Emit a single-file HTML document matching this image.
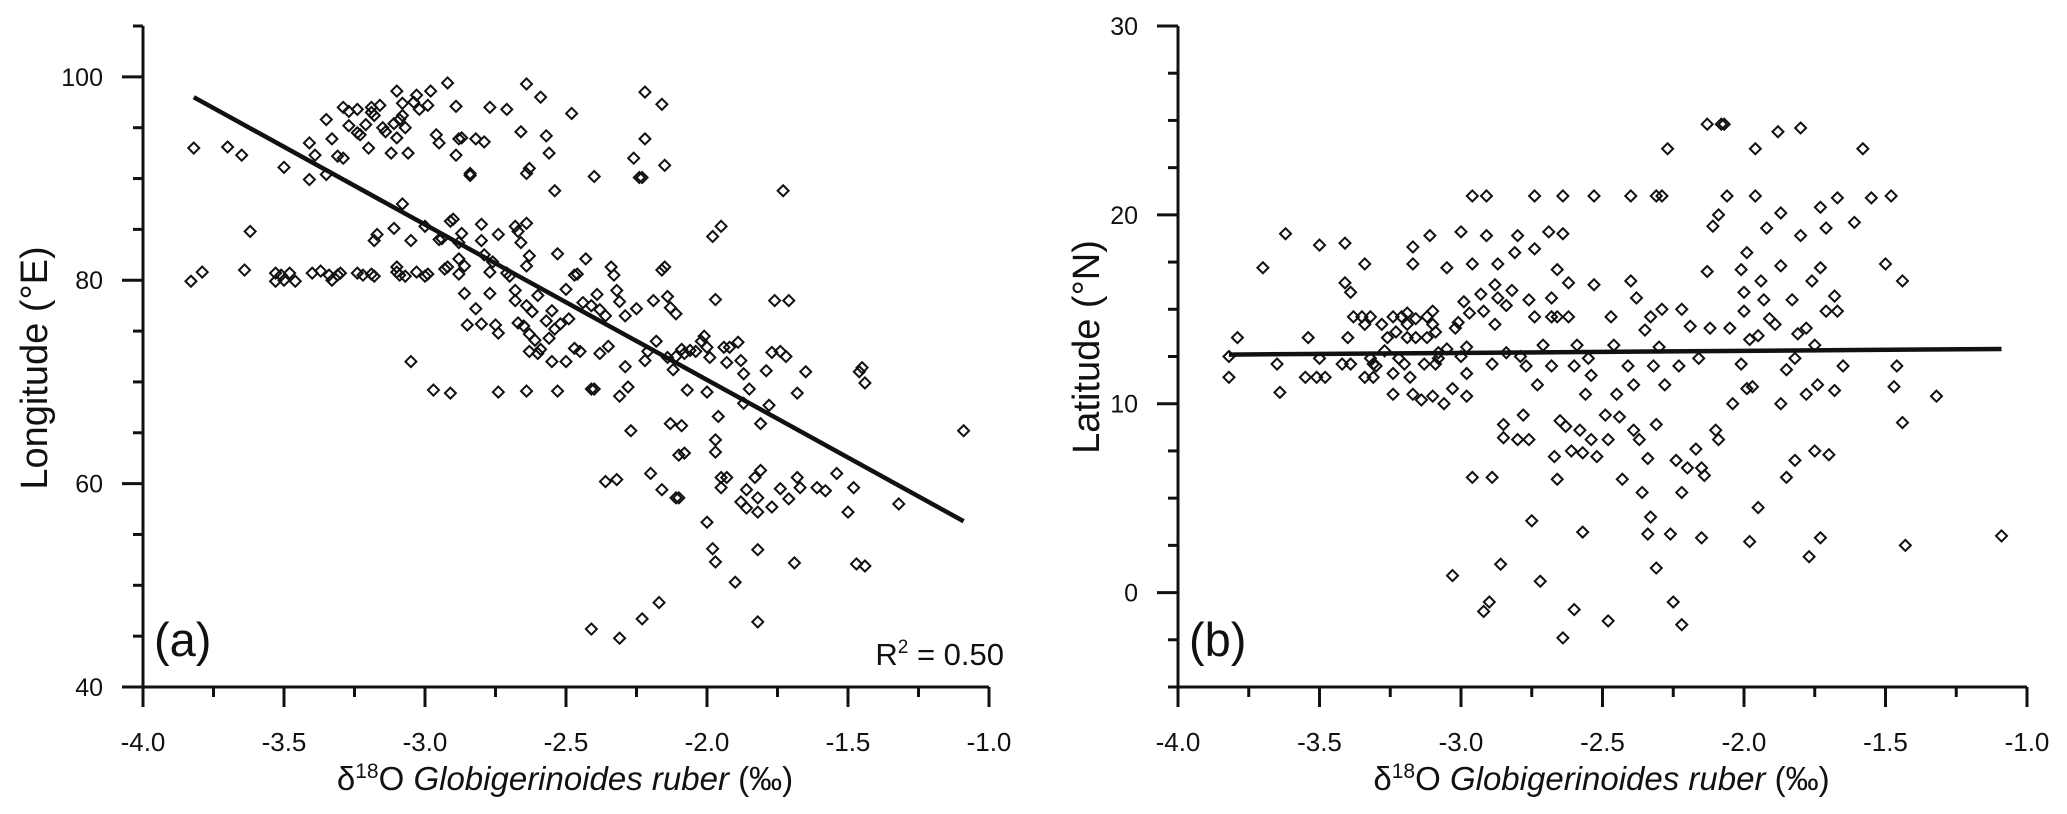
<!DOCTYPE html>
<html><head><meta charset="utf-8"><style>
html,body{margin:0;padding:0;background:#fff}
svg{display:block}
text{font-family:"Liberation Sans",Arial,sans-serif;fill:#111}
</style></head><body>
<svg id="fig" width="2067" height="814" viewBox="0 0 2067 814" xmlns="http://www.w3.org/2000/svg"></svg>
<script>
// Panel (a) data: d18O vs Longitude
const aX = [-3.82,-3.70,-3.65,-3.83,-3.79,-3.64,-3.62,-3.50,-3.53,-3.51,-3.48,-3.53,-3.50,-3.46,
-3.41,-3.41,-3.39,-3.40,-3.37,-3.35,-3.34,-3.33,-3.31,-3.30,-3.33,-3.35,-3.31,-3.29,-3.29,-3.27,-3.24,-3.27,-3.23,-3.24,
-3.19,-3.18,-3.16,-3.14,-3.12,-3.11,-3.10,-3.09,-3.08,-3.07,-3.08,-3.04,-3.03,-3.02,-2.99,-2.98,-2.96,-2.95,-2.92,-2.89,-2.89,-2.88,-2.87,-2.82,-2.84,-2.84,-2.77,-2.79,-2.71,-2.66,-2.64,-2.63,-2.64,-2.59,-2.57,-2.56,-2.54,-2.48,-2.40,-2.26,-2.24,-2.23,-2.22,-2.22,-2.16,-2.15,
-3.19,-3.20,-3.21,-3.15,-3.06,-3.10,
-3.24,-3.22,-3.19,-3.18,-3.10,-3.09,-3.07,-3.10,-3.03,-3.00,-2.99,-2.93,-2.92,-2.88,
-3.18,-3.17,-3.11,-3.08,-3.05,-3.00,-2.95,-2.94,-2.91,-2.90,-2.88,-2.87,-2.88,-2.86,-2.80,-2.80,-2.79,-2.77,-2.76,-2.74,-2.71,-2.68,-2.67,-2.66,-2.64,-2.64,-2.63,-2.68,-2.68,-2.64,-2.62,
-2.86,-2.82,-2.80,-2.77,-2.75,-2.74,-2.85,-2.70,-2.67,-2.65,-2.63,-2.61,-2.60,-2.59,-2.57,-2.56,-2.55,-2.54,-2.53,-2.52,-2.50,-2.49,-2.47,-2.46,-2.43,-2.44,-2.41,-2.39,-2.38,-2.36,-2.34,-2.33,-2.32,-2.31,-2.29,-2.25,-2.22,-2.21,-2.18,-2.19,-2.16,-2.15,-2.14,-2.13,-2.11,-2.14,-2.12,-2.11,-2.09,-2.08,-2.06,-2.04,-2.02,-2.01,-2.00,-1.99,-1.98,-1.97,-1.95,-1.94,-1.93,-1.92,-1.89,-1.88,-1.87,-1.79,-1.77,-1.76,-1.74,-1.72,-1.71,-1.73,-1.65,-1.68,-1.46,-1.45,-1.44,-1.09,
-3.05,-2.97,-2.91,-2.74,-2.64,-2.53,-2.60,-2.63,-2.55,-2.50,-2.47,-2.45,-2.40,-2.41,-2.38,-2.35,-2.31,-2.28,-2.27,-2.29,
-2.07,-2.00,-1.96,-1.85,-1.87,-1.81,-1.78,-2.13,-2.09,-2.10,-2.08,-1.97,-1.97,-1.95,-1.93,-1.95,-1.88,-1.86,-1.86,-1.83,-1.81,-1.82,-1.82,-1.77,-1.74,-1.71,-1.68,-1.67,-1.61,-1.58,-1.54,-1.48,-1.50,-1.32,-2.20,-2.16,-2.11,-2.10,-2.36,-2.32,
-2.00,-1.98,-1.97,-1.82,-1.69,-1.47,-1.44,-1.90,-2.17,-2.23,-2.41,-2.31,-1.82];
const aY = [93.0,93.1,92.3,79.9,80.8,81.0,84.8,91.1,80.7,80.5,80.7,79.9,80.0,79.9,
93.5,89.9,92.3,80.7,80.9,90.4,80.5,80.0,80.5,80.7,93.9,95.8,92.2,92.0,97.0,96.6,96.8,95.2,94.3,94.5,
96.5,96.2,97.2,94.6,92.5,95.4,98.6,95.8,96.2,95.0,97.4,97.5,98.2,96.8,97.2,98.6,94.3,93.5,99.4,97.1,92.3,93.9,94.0,93.9,90.5,90.3,97.0,93.6,96.8,94.6,90.5,91.0,99.3,98.0,94.2,92.5,88.8,96.4,90.2,92.0,90.1,90.1,98.5,93.9,97.3,91.3,
97.0,93.0,95.3,95.0,92.5,94.0,
80.7,80.5,80.6,80.4,80.8,80.5,80.4,81.3,80.8,80.4,80.6,81.1,81.3,80.6,
83.9,84.5,85.1,87.5,83.9,85.3,84.0,84.1,85.8,86.0,83.7,84.6,82.1,81.4,85.5,83.9,82.5,80.8,81.8,84.5,80.7,85.3,84.8,83.7,85.6,81.4,82.4,79.0,78.0,77.5,76.9,
78.7,77.2,75.7,78.7,75.6,74.8,75.6,80.4,75.8,75.5,74.7,74.1,78.5,73.2,76.0,74.3,77.0,75.2,82.6,75.7,79.1,76.2,80.5,80.6,82.1,77.8,77.5,78.6,77.1,76.5,81.3,80.5,79.0,77.9,76.5,77.2,72.1,73.0,74.0,78.0,81.0,81.3,78.4,77.3,76.7,72.4,71.2,72.5,73.2,72.8,73.1,73.0,74.0,74.5,73.4,72.4,84.3,78.1,85.3,73.4,71.9,73.4,73.9,72.1,70.8,71.1,72.9,78.0,73.0,72.5,78.0,88.8,71.0,68.9,71.0,71.4,69.9,65.2,
72.0,69.2,68.9,69.0,69.1,69.1,72.8,73.0,72.0,72.0,73.3,73.0,69.3,69.3,72.8,73.5,68.6,69.5,65.2,71.5,
69.2,69.0,66.6,69.3,67.9,65.9,67.7,65.9,65.7,62.8,63.0,64.3,63.1,60.6,60.6,59.6,58.2,57.6,59.4,60.6,61.3,58.6,57.2,57.7,59.5,58.5,60.6,59.6,59.6,59.3,61.0,59.6,57.2,58.0,61.0,59.4,58.6,58.6,60.2,60.4,
56.2,53.6,52.3,53.5,52.2,52.1,51.9,50.3,48.3,46.7,45.7,44.8,46.4];
const aFitX = [-3.82,-1.09];
const aFitY = [98.0,56.3];

// Panel (b) data: d18O vs Latitude
const bX = [-3.82,-3.82,-3.79,-3.70,-3.65,-3.64,-3.62,-3.55,-3.54,-3.51,-3.50,-3.50,-3.48,-3.42,-3.41,-3.41,-3.40,-3.39,-3.39,-3.38,-3.35,-3.34,-3.34,-3.34,-3.32,-3.32,-3.31,-3.31,-3.30,
-3.28,-3.27,-3.26,-3.24,-3.24,-3.24,-3.23,-3.22,-3.21,-3.20,-3.19,-3.19,-3.19,-3.18,-3.17,-3.17,-3.17,-3.16,-3.16,-3.14,-3.13,-3.12,-3.12,-3.11,-3.10,-3.10,-3.10,-3.09,-3.09,-3.08,-3.08,-3.06,-3.05,-3.05,-3.03,-3.03,-3.02,-3.01,-3.00,-3.00,-2.99,-2.98,-2.98,-2.98,-2.97,-2.96,-2.96,-2.96,-2.93,-2.92,-2.92,-2.91,-2.91,-2.90,-2.89,-2.89,-2.88,-2.88,-2.87,-2.87,-2.86,-2.85,-2.85,-2.84,-2.84,-2.82,-2.81,-2.80,-2.80,-2.79,-2.78,-2.77,-2.76,-2.76,-2.75,-2.74,-2.74,-2.74,-2.73,-2.72,-2.71,-2.69,-2.68,-2.68,-2.68,-2.67,-2.66,-2.66,-2.66,-2.65,-2.64,-2.64,-2.64,-2.63,-2.62,-2.62,-2.61,-2.60,-2.60,-2.59,-2.58,-2.57,-2.57,-2.56,-2.55,-2.54,-2.54,-2.53,-2.53,-2.52,-2.49,-2.48,-2.48,-2.47,-2.46,-2.45,-2.44,-2.43,-2.41,-2.40,-2.40,-2.39,-2.39,-2.38,-2.37,-2.36,-2.35,-2.34,-2.34,-2.33,-2.33,-2.32,-2.31,-2.31,-2.31,-2.30,-2.29,-2.29,-2.28,-2.27,-2.26,-2.25,-2.24,-2.23,-2.22,-2.22,-2.22,-2.20,-2.19,-2.17,-2.16,-2.15,-2.15,-2.14,-2.13,-2.13,-2.12,-2.11,-2.10,-2.09,-2.09,-2.08,-2.07,-2.06,-2.05,-2.04,-2.01,-2.01,-2.00,-2.00,-1.99,-1.99,-1.98,-1.98,-1.97,-1.96,-1.96,-1.95,-1.95,-1.94,-1.93,-1.92,-1.91,-1.89,-1.88,-1.87,-1.87,-1.87,-1.85,-1.85,-1.83,-1.82,-1.82,-1.81,-1.80,-1.80,-1.78,-1.78,-1.77,-1.76,-1.75,-1.75,-1.74,-1.73,-1.73,-1.73,-1.71,-1.71,-1.70,-1.68,-1.68,-1.67,-1.67,-1.65,-1.61,-1.58,-1.55,-1.50,-1.48,-1.47,-1.46,-1.44,-1.44,-1.43,-1.32,-1.09];
const bY = [11.4,12.5,13.5,17.2,12.1,10.6,19.0,11.4,13.5,11.4,18.4,12.4,11.4,12.1,18.5,16.4,13.5,15.9,12.1,14.6,14.6,14.2,17.4,11.4,12.4,14.6,11.4,12.1,12.0,
14.2,12.8,13.5,10.5,11.6,14.6,13.8,12.4,14.6,12.1,14.8,14.2,13.5,11.4,10.5,18.3,17.4,14.5,13.5,10.2,12.1,13.5,14.6,18.9,14.2,14.9,10.4,13.8,12.1,12.4,12.7,10.0,17.2,12.9,10.8,0.9,14.0,14.3,19.1,12.5,15.4,10.4,11.6,13.0,14.8,21.0,17.4,6.1,15.8,14.9,-1.0,21.0,18.9,-0.5,12.1,6.1,16.3,14.2,17.4,15.6,1.5,8.2,8.9,15.2,12.7,16.0,18.0,18.9,8.1,12.5,9.4,12.0,15.5,8.1,3.8,21.0,18.2,14.6,11.0,0.6,13.1,19.1,14.6,12.0,15.6,7.2,6.0,17.1,14.6,9.1,21.0,19.0,-2.4,8.8,16.4,14.6,7.5,-0.9,12.0,13.1,8.6,3.2,7.4,10.5,12.4,11.5,8.1,16.3,21.0,7.2,9.4,8.1,-1.5,14.6,13.1,10.5,9.3,6.0,12.0,21.0,16.5,11.0,8.6,15.6,8.1,5.3,13.9,7.1,3.1,4.0,14.6,12.0,21.0,1.3,8.9,13.0,15.0,21.0,11.0,23.5,3.1,-0.5,7.0,12.0,5.3,-1.7,15.0,6.6,14.1,7.6,12.4,6.6,2.9,6.2,24.8,17.0,14.0,19.4,8.6,8.1,20.0,24.8,24.8,21.0,14.0,10.0,17.1,12.1,14.9,15.9,10.8,18.0,2.7,13.4,10.9,21.0,23.5,4.5,13.6,16.5,15.5,19.3,14.5,14.2,24.4,17.3,10.0,20.1,11.8,6.1,15.5,7.0,12.4,13.7,18.9,24.6,14.0,10.5,1.9,16.5,13.1,7.5,11.0,2.9,17.2,20.4,14.9,19.3,7.3,10.7,15.7,14.9,20.9,12.0,19.6,23.5,20.9,17.4,21.0,10.9,12.0,16.5,9.0,2.5,10.4,3.0];
const bFitX = [-3.82,-1.09];
const bFitY = [12.6,12.9];

const xTicks = [-4.0,-3.5,-3.0,-2.5,-2.0,-1.5,-1.0];
const xTickLabels = ["-4.0","-3.5","-3.0","-2.5","-2.0","-1.5","-1.0"];
const aYTicks = [40,60,80,100];
const bYTicks = [0,10,20,30];

const NS = "http://www.w3.org/2000/svg";
const svg = document.getElementById('fig');
function mk(tag, attrs, parent){const e=document.createElementNS(NS,tag);for(const k in attrs)e.setAttribute(k,attrs[k]);(parent||svg).appendChild(e);return e;}

function panel(cfg){
  const g = mk('g',{});
  
  
  const sx = v => cfg.x0 + (v - (-4)) / 3 * (cfg.x1 - cfg.x0);
  const sy = v => cfg.yb - (v - cfg.ymin) / (cfg.ymax - cfg.ymin) * (cfg.yb - cfg.yt);
  const ax = mk('path',{d:`M${cfg.x0},${cfg.yt} V${cfg.yb} H${cfg.x1}`,fill:'none',stroke:'#111','stroke-width':3},g);
  
  
  for(let v=-4;v<=-0.99;v+=0.25){
    const major = Math.abs(v*2-Math.round(v*2))<1e-6;
    const t = mk('line',{x1:sx(v),x2:sx(v),y1:cfg.yb,y2:cfg.yb+(major?20:10),stroke:'#111','stroke-width':3},g);
    
    
  }
  xTicks.forEach((v,i)=>{
    const t = mk('text',{x:sx(v),y:cfg.yb+64,'text-anchor':'middle','font-size':26},g);
    t.textContent = xTickLabels[i];
    
    
  });
  for(let v=cfg.ymin; v<=cfg.ymax+1e-6; v+=cfg.minor){
    const major = Math.abs(v/cfg.major-Math.round(v/cfg.major))<1e-6;
    const t = mk('line',{x1:cfg.x0-(major?21:10),x2:cfg.x0,y1:sy(v),y2:sy(v),stroke:'#111','stroke-width':3},g);
    
    
  }
  cfg.yTicks.forEach(v=>{
    const t = mk('text',{x:cfg.x0-40,y:sy(v)+9,'text-anchor':'end','font-size':25},g);
    t.textContent = String(v);
    
    
  });
  const pg = mk('g',{fill:'none',stroke:'#111','stroke-width':2},g);
  
  
  cfg.xs.forEach((xv,i)=>{
    const px=sx(xv), py=sy(cfg.ys[i]), r=5.5;
    const p = mk('path',{d:`M${px},${py-r} L${px+r},${py} L${px},${py+r} L${px-r},${py} Z`},pg);
    
    
  });
  const l = mk('line',{x1:sx(cfg.fx[0]),y1:sy(cfg.fy[0]),x2:sx(cfg.fx[1]),y2:sy(cfg.fy[1]),stroke:'#111','stroke-width':4.5},g);
  
  
  const yt = mk('text',{transform:`translate(${cfg.ytx},${cfg.yty}) rotate(-90)`,'text-anchor':'middle','font-size':38},g);
  yt.textContent = cfg.ylabel;
  
  
  const xt = mk('text',{x:(cfg.x0+cfg.x1)/2-1,y:790,'text-anchor':'middle','font-size':33},g);
  xt.innerHTML = 'δ<tspan font-size="21" dy="-12">18</tspan><tspan dy="12">O </tspan><tspan font-style="italic">Globigerinoides ruber</tspan> (‰)';
  
  
  const pl = mk('text',{x:cfg.x0+11,y:cfg.yb-31,'font-size':47},g);
  pl.textContent = cfg.tag;
  
  
}

panel({name:'panel-a',x0:143,x1:989,yt:26,yb:687,ymin:40,ymax:105,major:20,minor:5,yTicks:aYTicks,
  xs:aX,ys:aY,fx:aFitX,fy:aFitY,ylabel:'Longitude (°E)',ytx:47,yty:368,tag:'(a)'});
panel({name:'panel-b',x0:1178,x1:2027,yt:26,yb:687,ymin:-5,ymax:30,major:10,minor:2.5,yTicks:bYTicks,
  xs:bX,ys:bY,fx:bFitX,fy:bFitY,ylabel:'Latitude (°N)',ytx:1099,yty:347,tag:'(b)'});

const r2 = mk('text',{x:1004,y:665,'text-anchor':'end','font-size':31});
r2.innerHTML = 'R<tspan font-size="19" dy="-12">2</tspan><tspan dy="12"> = 0.50</tspan>';


</script>
</body></html>
